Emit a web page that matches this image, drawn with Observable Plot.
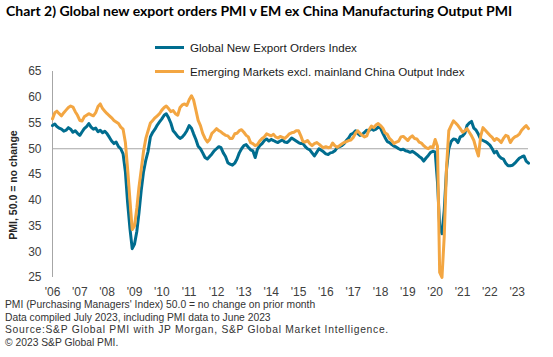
<!DOCTYPE html>
<html><head><meta charset="utf-8">
<script src="https://cdn.jsdelivr.net/npm/d3@7"></script>
<script src="https://cdn.jsdelivr.net/npm/@observablehq/plot@0.6"></script>
<style>
body{margin:0;background:#fff;width:553px;height:357px;overflow:hidden;position:relative;font-family:"Liberation Sans",Arial,sans-serif;}
#title{position:absolute;left:6px;top:2px;font:bold 14px Lato,sans-serif;color:#000;white-space:nowrap;}
#legend{position:absolute;left:155px;top:35px;font-size:11.6px;color:#1a1a1a;}
.item{display:flex;align-items:center;height:24px;white-space:nowrap;}
.sw{width:29px;height:3px;margin-right:6px;}
#chart{position:absolute;left:0;top:40px;}
#ylab{position:absolute;left:13px;top:185px;transform:translate(-50%,-50%) rotate(-90deg);font-weight:bold;font-size:10.5px;color:#262626;white-space:nowrap;}
#notes{position:absolute;left:5px;top:299px;font-size:10.3px;line-height:12.7px;color:#333;white-space:nowrap;}
#notes .wide{letter-spacing:0.72px;}
</style></head>
<body>
<div id="title">Chart 2) Global new export orders PMI v EM ex China Manufacturing Output PMI</div>
<div id="chart"></div>
<div id="legend"></div>
<div id="ylab">PMI, 50.0 = no change</div>
<div id="notes">
<div>PMI (Purchasing Managers' Index) 50.0 = no change on prior month</div>
<div>Data compiled July 2023, including PMI data to June 2023</div>
<div class="wide">Source:S&amp;P Global PMI with JP Morgan, S&amp;P Global Market Intelligence.</div>
<div>© 2023 S&amp;P Global PMI.</div>
</div>
<script>
const seriesNames = ["Global New Export Orders Index", "Emerging Markets excl. mainland China Output Index"];
const seriesColors = ["#006d8f", "#f3a642"];
const startYear = 2006, startMonth = 0;
const xLabels = ["'06","'07","'08","'09","'10","'11","'12","'13","'14","'15","'16","'17","'18","'19","'20","'21","'22","'23"];
const yTicks = [25,30,35,40,45,50,55,60,65];

const globalExportOrders = [
 54.5,54.8,54.3,54.0,53.8,53.4,53.6,54.1,53.8,53.2,53.5,53.0,
 52.6,53.3,53.9,54.3,54.9,54.2,53.8,54.0,53.3,53.6,53.1,53.4,
 52.9,52.2,51.5,51.0,51.3,50.4,50.0,49.0,45.5,39.5,34.5,30.6,
 31.5,34.0,37.5,42.0,45.5,47.8,49.5,52.3,53.2,53.8,54.6,55.2,
 55.8,56.5,56.8,56.0,55.0,53.5,53.0,52.4,52.0,52.3,52.8,53.5,
 54.5,54.0,52.9,51.8,50.5,50.0,49.2,48.3,48.0,48.5,49.0,49.6,
 50.0,50.4,50.2,49.2,48.5,47.3,47.0,46.8,47.2,48.0,49.2,50.0,
 50.6,50.8,50.3,49.8,49.6,48.3,49.9,50.6,51.0,51.6,51.9,51.5,
 51.8,51.6,51.4,51.2,51.5,51.7,51.3,51.2,51.6,52.1,51.8,51.5,
 51.2,51.0,51.0,50.4,50.0,49.8,49.2,48.6,49.3,50.0,49.7,49.4,
 49.0,48.9,49.2,49.3,49.6,50.2,50.4,50.6,51.0,51.6,52.1,52.8,
 53.0,53.5,53.0,52.6,52.8,53.2,53.6,53.5,53.9,53.6,53.8,54.2,
 54.0,53.0,52.2,51.4,51.2,50.8,50.5,50.3,50.0,49.8,49.9,49.6,
 49.5,49.3,49.5,49.2,48.9,48.5,48.2,47.6,48.2,48.7,49.3,49.5,
 49.4,43.5,35.0,33.5,38.0,46.0,50.0,51.4,51.9,51.8,51.2,52.3,
 52.5,53.0,54.5,55.0,55.3,54.0,53.6,52.8,51.8,51.6,51.4,51.1,
 50.7,50.0,49.2,49.5,48.6,48.2,48.0,47.2,46.7,46.7,46.8,47.2,
 47.7,48.2,48.4,48.6,47.6,47.2
];
const emExChinaOutput = [
 55.8,57.0,57.3,56.8,56.4,57.0,57.5,58.0,58.3,58.1,57.2,56.5,
 55.5,55.4,56.2,56.5,56.8,56.6,56.4,57.0,58.2,58.7,57.8,57.3,
 56.8,56.4,56.0,55.5,55.2,54.9,54.2,53.8,51.2,46.0,40.0,34.3,
 35.0,38.5,42.5,46.0,49.5,52.0,53.5,55.0,55.5,56.0,56.4,56.8,
 57.5,58.0,58.3,57.8,57.2,57.4,56.8,56.5,58.0,58.5,58.7,58.4,
 59.5,60.3,59.5,57.5,55.5,54.5,53.0,52.0,51.3,51.8,53.0,53.4,
 53.9,53.5,53.3,52.9,52.6,52.5,52.0,52.0,52.9,53.0,53.5,53.7,
 53.2,52.6,52.3,51.2,51.0,50.6,50.8,51.5,52.0,52.3,52.9,52.7,
 52.5,52.8,52.3,52.1,52.4,52.2,52.0,52.4,52.9,53.1,53.2,53.5,
 53.5,52.5,51.4,51.3,51.6,51.0,50.6,51.0,51.2,50.9,50.5,50.2,
 50.4,50.2,50.3,51.1,50.6,50.3,50.6,50.9,51.2,51.4,51.6,51.7,
 52.2,53.0,53.5,53.0,52.6,52.3,52.5,53.7,54.4,54.1,54.6,54.9,
 54.5,54.0,53.1,52.8,52.0,51.6,51.0,51.3,51.5,52.3,52.4,52.0,
 51.6,52.2,52.5,52.0,51.9,51.3,51.1,50.6,50.2,50.0,50.4,50.2,
 51.8,50.5,26.0,25.0,33.0,46.5,53.5,54.5,55.4,55.0,54.5,53.9,
 53.2,53.5,53.9,53.2,52.5,51.6,50.0,48.6,52.5,54.1,53.6,53.1,
 52.6,52.2,51.6,52.0,51.7,51.2,52.0,52.6,52.4,51.2,51.9,52.3,
 52.5,52.9,53.6,54.1,54.5,53.9
];

const dateOf = i => new Date(Date.UTC(startYear, startMonth + i, 1));
const rows = [];
[globalExportOrders, emExChinaOutput].forEach((arr, s) => arr.forEach((v, i) => rows.push({date: dateOf(i), value: v, series: seriesNames[s]})));
const xTickDates = xLabels.map((_, k) => new Date(Date.UTC(startYear + k, 0, 1)));
const lastDate = dateOf(globalExportOrders.length - 1);

const chart = Plot.plot({
  width: 553, height: 260,
  marginLeft: 52, marginRight: 25, marginTop: 31, marginBottom: 23,
  style: {fontFamily: "'Liberation Sans', Arial, sans-serif", fontSize: "12px", color: "#404040", background: "transparent", overflow: "visible"},
  x: {type: "utc", domain: [dateOf(0), lastDate]},
  y: {domain: [25, 65]},
  color: {domain: seriesNames, range: seriesColors},
  marks: [
    Plot.axisY(yTicks, {tickSize: 0, tickPadding: 11, label: null}),
    Plot.axisX(xTickDates, {tickSize: 0, tickPadding: 10, label: null, tickFormat: d => xLabels[d.getUTCFullYear() - startYear]}),
    Plot.ruleX([dateOf(0)], {y1: 25, y2: 65, stroke: "#a6a6a6", strokeWidth: 1}),
    Plot.ruleY([50], {stroke: "#a6a6a6", strokeWidth: 1}),
    Plot.lineY(rows, {x: "date", y: "value", z: "series", stroke: "series", strokeWidth: 3, strokeLinejoin: "round"})
  ]
});
document.getElementById("chart").appendChild(chart);

const legend = document.getElementById("legend");
seriesNames.forEach((n, i) => {
  const it = document.createElement("div"); it.className = "item";
  const sw = document.createElement("span"); sw.className = "sw"; sw.style.background = seriesColors[i];
  const tx = document.createElement("span"); tx.textContent = n;
  it.appendChild(sw); it.appendChild(tx); legend.appendChild(it);
});
</script>
</body></html>
